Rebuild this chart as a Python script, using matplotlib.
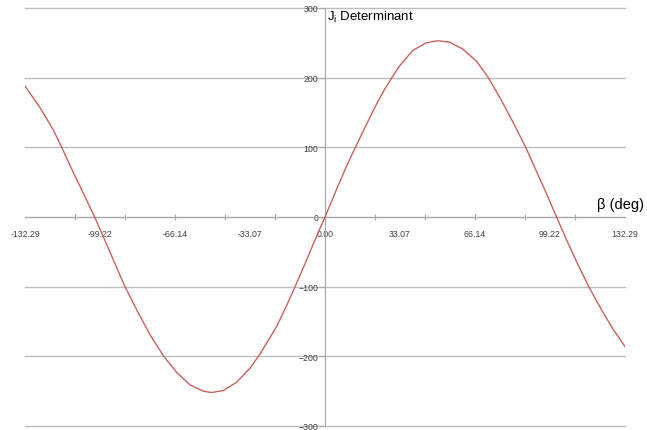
import matplotlib
matplotlib.use("Agg")
import matplotlib.pyplot as plt
import numpy as np

# values
beta_deg = [-132.29, -125.7, -119.8, -116.1, -111.0, -105.8, -101.6, -97.0, -92.6,
            -88.2, -82.3, -76.8, -71.1, -65.4, -59.5, -53.7, -50.0, -44.8, -38.9,
            -33.1, -28.7, -21.3, -16.9, -13.2, -8.8, -4.4, 0.0, 5.0, 9.5, 13.4,
            18.3, 22.7, 26.4, 29.3, 32.9, 38.7, 44.6, 49.7, 54.9, 60.8, 66.7,
            72.0, 78.2, 83.4, 88.5, 92.9, 98.0, 102.1, 106.4, 111.5, 116.3, 121.9,
            127.0, 132.29]
determinant = [188, 157, 125, 100, 64, 29, 0, -34, -67,
               -100, -138, -171, -200, -223, -241, -250, -252, -249, -237,
               -217, -197, -157, -127, -100, -67, -33, 0, 39, 73, 100,
               133, 162, 184, 199, 217, 239, 250, 253, 251, 241, 224,
               200, 165, 133, 100, 68, 31, 0, -32, -68, -100, -133,
               -161, -186]

x_labels = [-132.29, -99.22, -66.14, -33.07, 0.00, 33.07, 66.14, 99.22, 132.29]
y_ticks = [-300, -200, -100, 0, 100, 200, 300]

W, H = 647, 431
fig = plt.figure(figsize=(W / 100, H / 100), dpi=100)
ax = fig.add_axes([25 / W, 4 / H, 600 / W, 418 / H])

ax.plot(beta_deg, determinant, color="#c9615d", lw=1.0, zorder=3)

ax.set_xlim(-132.29, 132.29)
ax.set_ylim(-300, 300)

axis_col = "#a6a6a6"
for side in ["top", "right"]:
    ax.spines[side].set_visible(False)
ax.spines["left"].set_position(("data", 0))
ax.spines["bottom"].set_position(("data", 0))
ax.spines["left"].set_color(axis_col)
ax.spines["bottom"].set_color(axis_col)
ax.spines["left"].set_zorder(1)
ax.spines["bottom"].set_zorder(1)

# x: labels every 33.07, tick marks every 22.05
ax.set_xticks(x_labels)
ax.set_xticklabels(["%.2f" % v for v in x_labels])
ax.set_xticks(np.linspace(-132.29, 132.29, 13), minor=True)
ax.tick_params(axis="x", which="major", length=0, pad=9,
               labelsize=6.3, labelcolor="#404040")
ax.tick_params(axis="x", which="minor", direction="inout", length=5,
               width=0.8, color=axis_col)

ax.set_yticks(y_ticks)
ax.tick_params(axis="y", direction="out", length=4, width=0.8, color=axis_col,
               pad=1, labelsize=6.3, labelcolor="#404040")

ax.yaxis.grid(True, color="#bdbdbd", lw=1.0)
ax.set_axisbelow(True)
for gl in ax.get_ygridlines():
    gl.set_clip_on(False)

for lab in ax.get_xticklabels() + ax.get_yticklabels():
    lab.set_family("Liberation Sans")

fig.text(327 / W, 1 - 17 / H, r"J$_\mathregular{i}$ Determinant",
         fontsize=9.5, family="Liberation Sans", va="center", ha="left")
fig.text(597 / W, 1 - 205 / H, "β (deg)", fontsize=10.5,
         family="Liberation Sans", va="center", ha="left")

fig.savefig("out.png", dpi=100)
